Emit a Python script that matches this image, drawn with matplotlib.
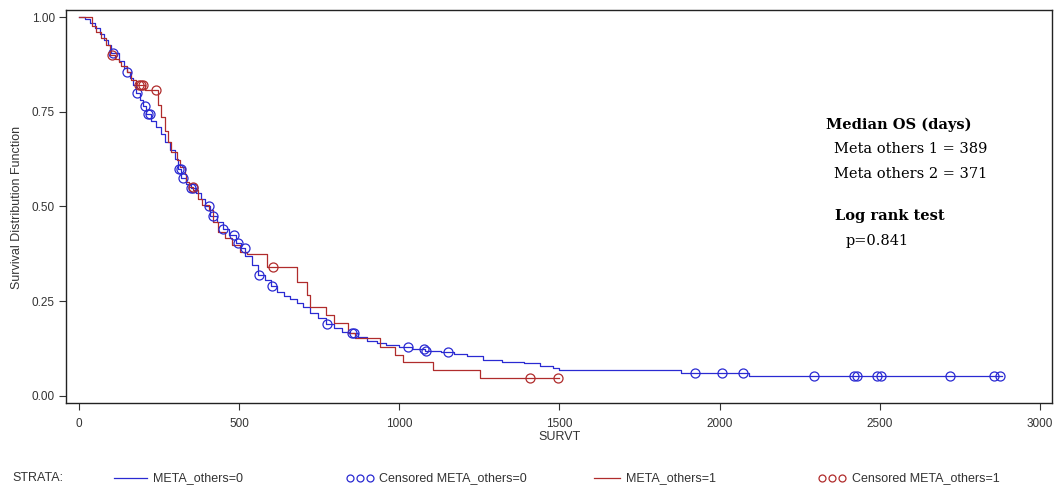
import numpy as np
import matplotlib
matplotlib.use('Agg')
import matplotlib.pyplot as plt
from matplotlib.lines import Line2D

# KM curve META_others=0 (step points, time in days / survival)
blue_t = [0, 20, 35, 50, 65, 80, 92, 100, 125, 140,
          150, 160, 170, 180, 190, 200, 210, 225, 240, 255,
          270, 285, 300, 310, 320, 335, 350, 365, 380, 395,
          410, 430, 450, 470, 490, 505, 520, 540, 560, 580,
          600, 620, 640, 660, 680, 700, 720, 745, 770, 795,
          820, 845, 870, 900, 930, 960, 1000, 1040, 1080, 1130,
          1170, 1210, 1260, 1320, 1390, 1440, 1480, 1500, 1880, 2090]
blue_s = [1.0, 0.995, 0.985, 0.97, 0.955, 0.94, 0.925, 0.905, 0.885, 0.865,
          0.855, 0.84, 0.82, 0.80, 0.78, 0.765, 0.745, 0.725, 0.71, 0.69,
          0.67, 0.65, 0.625, 0.60, 0.575, 0.56, 0.55, 0.535, 0.52, 0.50,
          0.475, 0.46, 0.44, 0.425, 0.405, 0.39, 0.37, 0.345, 0.32, 0.305,
          0.29, 0.275, 0.265, 0.255, 0.245, 0.235, 0.22, 0.205, 0.19, 0.18,
          0.17, 0.165, 0.155, 0.145, 0.14, 0.135, 0.13, 0.125, 0.12, 0.115,
          0.112, 0.105, 0.095, 0.09, 0.087, 0.08, 0.074, 0.0686, 0.0615, 0.053]
blue_end = 2880
blue_cens = [106, 150, 181, 207, 215, 222, 312, 318, 325, 350, 356, 406, 418,
             450, 484, 496, 518, 562, 603, 774, 852, 858, 1027, 1077, 1083, 1152,
             1923, 2007, 2073, 2295, 2420, 2428, 2490, 2503, 2720, 2855, 2875]

# KM curve META_others=1
red_t = [0, 40, 55, 70, 85, 97, 113, 125, 133, 149,
         164, 180, 206, 248, 258, 268, 278, 289, 305, 315,
         331, 336, 345, 357, 372, 385, 405, 419, 435, 456,
         477, 503, 524, 587, 680, 711, 721, 771, 797, 841,
         862, 940, 987, 1012, 1106, 1252]
red_s = [1.0, 0.975, 0.96, 0.945, 0.925, 0.90, 0.89, 0.88, 0.87, 0.856,
         0.834, 0.82, 0.807, 0.768, 0.737, 0.70, 0.67, 0.645, 0.623, 0.605,
         0.587, 0.565, 0.552, 0.543, 0.52, 0.505, 0.49, 0.46, 0.433, 0.416,
         0.398, 0.381, 0.375, 0.34, 0.30, 0.267, 0.236, 0.214, 0.192, 0.165,
         0.152, 0.13, 0.108, 0.09, 0.0686, 0.047]
red_end = 1500
red_cens = [103, 187, 193, 200, 240, 355, 606, 1408, 1495]

xticks = [0, 500, 1000, 1500, 2000, 2500, 3000]
yticks = [0.0, 0.25, 0.5, 0.75, 1.0]

azul = '#2a2ad2'
vermelho = '#b02c2c'
sans = ['Liberation Sans Narrow', 'Liberation Sans', 'DejaVu Sans']
serif = ['DejaVu Serif']
W, H = 1058, 490


def degrau(t, s, fim):
    t = list(t) + [fim]
    s = list(s) + [s[-1]]
    return np.array(t), np.array(s)


def valor_em(t, s, tc):
    idx = np.searchsorted(np.array(t), np.array(tc), side='right') - 1
    return np.array(s)[idx]


fig = plt.figure(figsize=(W / 100, H / 100), dpi=100)
ax = fig.add_axes([66 / W, 1 - 403 / H, (1052 - 66) / W, (403 - 10) / H])

bt, bs = degrau(blue_t, blue_s, blue_end)
rt, rs = degrau(red_t, red_s, red_end)
ax.plot(bt, bs, drawstyle='steps-post', color=azul, lw=0.9)
ax.plot(rt, rs, drawstyle='steps-post', color=vermelho, lw=0.9)
ax.plot(blue_cens, valor_em(bt, bs, blue_cens), 'o', mfc='none', mec=azul, ms=6.5, mew=0.9)
ax.plot(red_cens, valor_em(rt, rs, red_cens), 'o', mfc='none', mec=vermelho, ms=6.5, mew=0.9)

ax.set_xlim(-40, 3037)
ax.set_ylim(-0.0185, 1.0185)
ax.set_xticks(xticks)
ax.set_yticks(yticks)
ax.set_xticklabels([str(v) for v in xticks], family=sans, fontsize=8.5, color='#333333')
ax.set_yticklabels(['%.2f' % v for v in yticks], family=sans, fontsize=8.5, color='#333333')
ax.tick_params(direction='out', length=5, width=0.8, color='#333333', pad=3)
ax.tick_params(axis='x', pad=6)
for sp in ax.spines.values():
    sp.set_linewidth(1.0)
    sp.set_color('#222222')

fig.text(17 / W, 1 - 207 / H, 'Survival Distribution Function', rotation=90,
         ha='center', va='center', family=sans, fontsize=9, color='#333333')
fig.text(560 / W, 1 - 437 / H, 'SURVT', ha='center', va='center',
         family=sans, fontsize=9, color='#333333')

# caixa de texto (mediana e log rank)
fig.text(826 / W, 1 - 125 / H, 'Median OS (days)', family=serif, fontsize=10.5, fontweight='bold', va='center')
fig.text(834 / W, 1 - 149 / H, 'Meta others 1 = 389', family=serif, fontsize=10.5, va='center')
fig.text(834 / W, 1 - 174 / H, 'Meta others 2 = 371', family=serif, fontsize=10.5, va='center')
fig.text(835 / W, 1 - 216 / H, 'Log rank test', family=serif, fontsize=10.5, fontweight='bold', va='center')
fig.text(846 / W, 1 - 241 / H, 'p=0.841', family=serif, fontsize=10.5, va='center')

# legenda
yl = 1 - 478 / H
fig.text(12 / W, yl, 'STRATA:', family=sans, fontsize=9, va='center', color='#333333')
fig.add_artist(Line2D([114 / W, 147 / W], [yl, yl], color=azul, lw=0.9))
fig.text(153 / W, yl, 'META_others=0', family=sans, fontsize=9, va='center', color='#333333')
fig.add_artist(Line2D([350 / W, 360 / W, 370 / W], [yl] * 3, ls='none', marker='o',
                      mfc='none', mec=azul, ms=5, mew=0.9))
fig.text(379 / W, yl, 'Censored META_others=0', family=sans, fontsize=9, va='center', color='#333333')
fig.add_artist(Line2D([594 / W, 620 / W], [yl, yl], color=vermelho, lw=0.9))
fig.text(626 / W, yl, 'META_others=1', family=sans, fontsize=9, va='center', color='#333333')
fig.add_artist(Line2D([822 / W, 832 / W, 842 / W], [yl] * 3, ls='none', marker='o',
                      mfc='none', mec=vermelho, ms=5, mew=0.9))
fig.text(852 / W, yl, 'Censored META_others=1', family=sans, fontsize=9, va='center', color='#333333')

fig.savefig('out.png', dpi=100)
